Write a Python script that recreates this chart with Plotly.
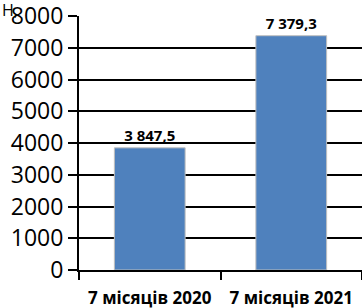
import plotly.graph_objects as go

categories = ["7 місяців 2020", "7 місяців 2021"]
values = [3847.5, 7379.3]
value_labels = ["3 847,5", "7 379,3"]
y_ticks = [0, 1000, 2000, 3000, 4000, 5000, 6000, 7000, 8000]

fig = go.Figure()
fig.add_trace(go.Bar(
    x=categories, y=values, width=0.5,
    marker=dict(color="#4F81BD", line=dict(color="#BFBFBF", width=1)),
    text=value_labels, textposition="outside",
    textfont=dict(family="Open Sans", size=15, color="black", weight="bold"),
    cliponaxis=False,
))
fig.update_layout(
    width=362, height=308,
    margin=dict(l=79, r=0, t=16, b=38, autoexpand=False),
    plot_bgcolor="white", paper_bgcolor="white",
    showlegend=False, bargap=0.5,
    font=dict(family="Open Sans", color="black"),
)
fig.update_yaxes(
    range=[0, 8000], tickvals=y_ticks, showgrid=True, gridcolor="black", gridwidth=2,
    ticks="outside", ticklen=9, tickwidth=2, tickcolor="black",
    showline=True, linecolor="black", linewidth=2, automargin=False,
    ticklabeloverflow="allow",
    tickfont=dict(size=23, family="Open Sans"), zeroline=False,
)
fig.update_xaxes(
    showline=True, linecolor="black", linewidth=2, automargin=False,
    ticks="outside", tickson="boundaries", ticklen=8, tickwidth=2, tickcolor="black",
    ticklabelstandoff=12, ticklabeloverflow="allow",
    tickfont=dict(size=17, family="Open Sans", weight="bold"),
)
fig.add_annotation(text="Н,", xref="paper", yref="paper", x=-79/283, y=1+19/254,
                   xanchor="left", yanchor="top", showarrow=False,
                   font=dict(size=16, family="Open Sans", color="black"))
fig.write_html("out.html", config={"displayModeBar": False},
               post_script="document.body.style.margin='0';document.body.style.padding='0';")
